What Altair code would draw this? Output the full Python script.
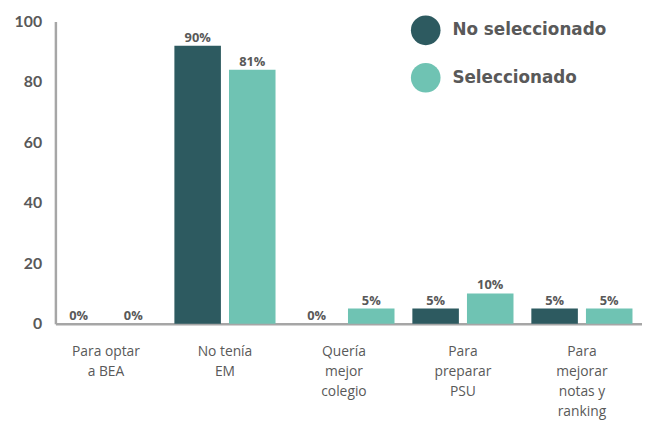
import altair as alt
import pandas as pd

categories = [
    "Para optar\na BEA",
    "No tenía\nEM",
    "Quería\nmejor\ncolegio",
    "Para\npreparar\nPSU",
    "Para\nmejorar\nnotas y\nranking",
]
series = ["No seleccionado", "Seleccionado"]
no_sel_values = [0, 92, 0, 5, 5]
sel_values = [0, 84, 5, 10, 5]
no_sel_labels = ["0%", "90%", "0%", "5%", "5%"]
sel_labels = ["0%", "81%", "5%", "10%", "5%"]
colors = ["#2d5a60", "#6fc3b3"]

rows = []
for i, c in enumerate(categories):
    rows.append({"cat": c, "serie": series[0], "val": no_sel_values[i], "lab": no_sel_labels[i]})
    rows.append({"cat": c, "serie": series[1], "val": sel_values[i], "lab": sel_labels[i]})
df = pd.DataFrame(rows)

FONT = "Lato"
GRAY = "#595959"

x = alt.X("cat:N", sort=categories, title=None,
          scale=alt.Scale(paddingInner=0.15, paddingOuter=0.04, align=0),
          axis=alt.Axis(labelAngle=0, labelExpr="split(datum.label, '\\n')",
                        labelFont="Open Sans", labelFontSize=14, labelColor=GRAY,
                        labelLineHeight=20.5, labelPadding=21, ticks=False,
                        domainColor="#a6a6a6", domainWidth=2.5, labelBaseline="top"))
xo = alt.XOffset("serie:N", sort=series, scale=alt.Scale(paddingInner=0.148, paddingOuter=0))
y = alt.Y("val:Q", title=None,
          scale=alt.Scale(domain=[0, 100], nice=False),
          axis=alt.Axis(values=[0, 20, 40, 60, 80, 100], grid=False, ticks=False,
                        labelFont=FONT, labelFontSize=16, labelFontWeight="bold",
                        labelColor=GRAY, labelPadding=14,
                        domainColor="#a6a6a6", domainWidth=2.5))

base = alt.Chart(df)
bars = base.mark_bar().encode(
    x=x, xOffset=xo, y=y,
    color=alt.Color("serie:N", sort=series,
                    scale=alt.Scale(domain=series, range=colors),
                    legend=alt.Legend(title=None, orient="none", legendX=360, legendY=-6,
                                      symbolType="circle", symbolSize=900,
                                      symbolStrokeWidth=0, rowPadding=18,
                                      labelOffset=12, labelFont="DejaVu Sans", labelFontSize=17,
                                      labelFontWeight="bold", labelColor=GRAY,
                                      labelLimit=300)),
)
text = base.mark_text(dy=-8, font="Open Sans", fontSize=13, fontWeight="bold", color=GRAY).encode(
    x=x, xOffset=xo, y=y, text="lab:N"
)

chart = (bars + text).properties(
    width=594, height=306,
    padding={"left": 48, "top": 11, "right": 0, "bottom": 100},
    autosize="none",
).configure_view(stroke=None)

chart.save("out.html", embed_options={"renderer": "svg", "actions": False})
